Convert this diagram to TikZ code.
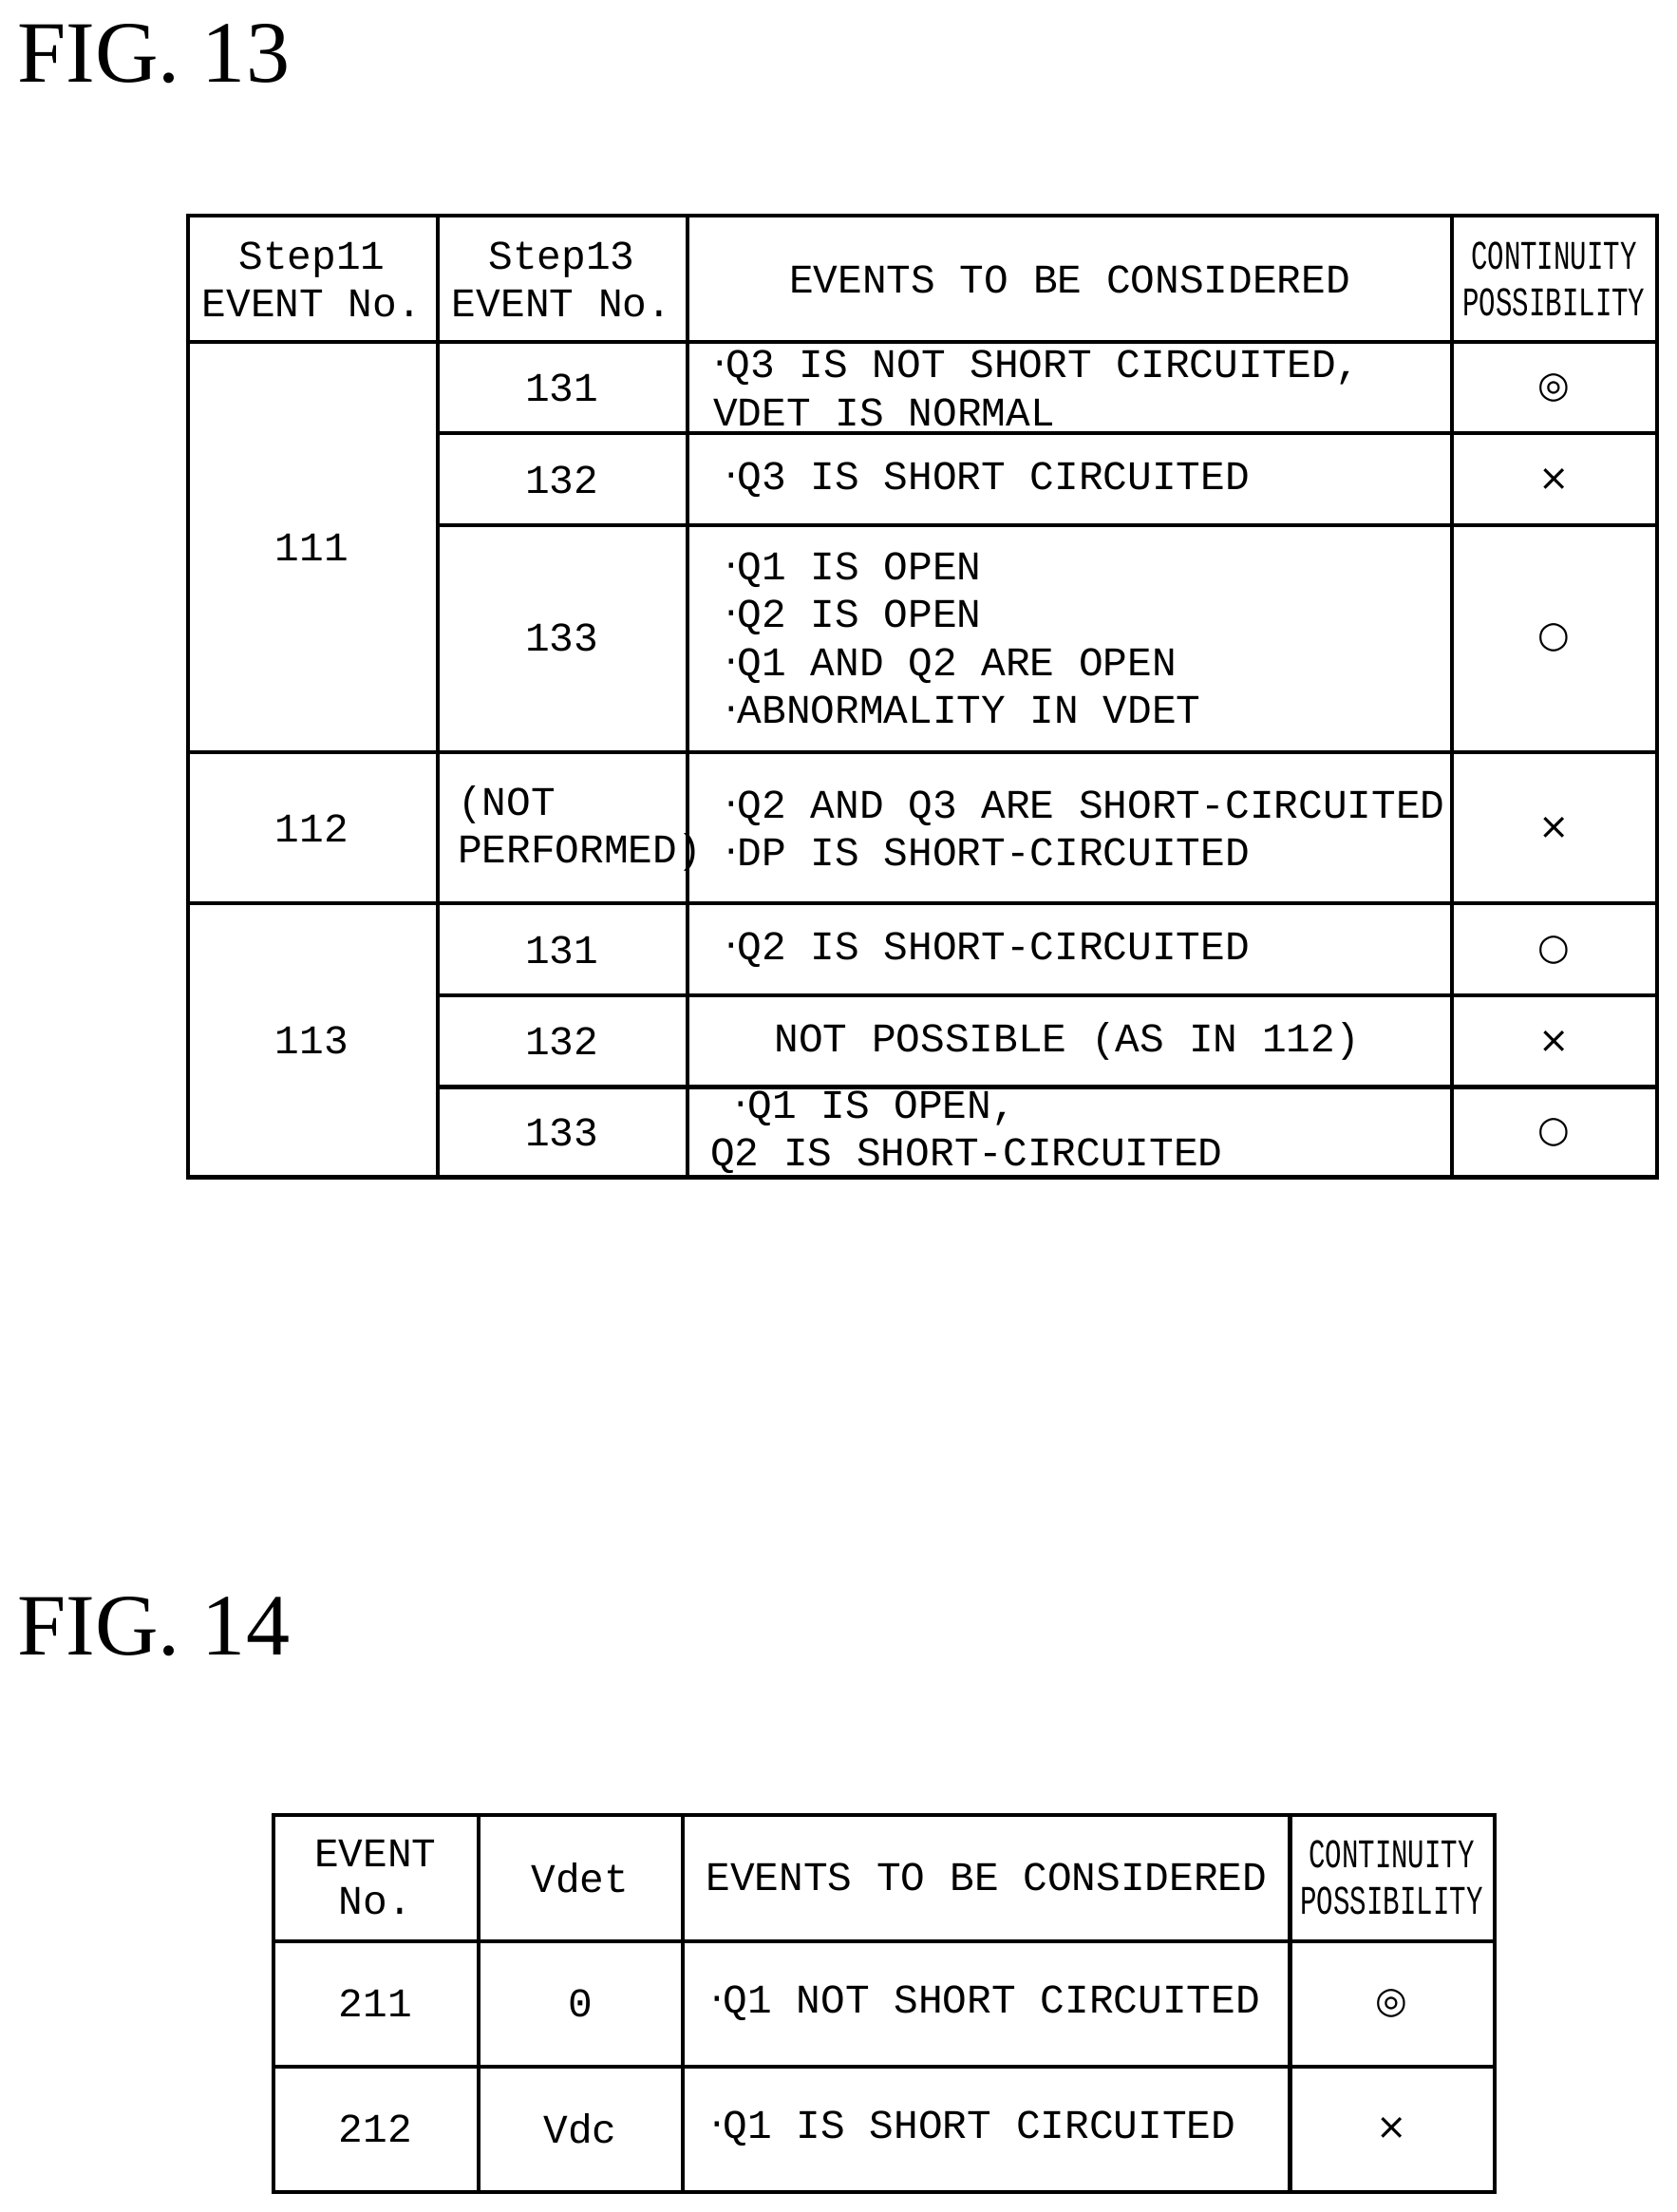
\documentclass[tikz,border=0pt]{standalone}
\usepackage{fontspec}
\setmainfont{Liberation Serif}
\newfontfamily\monofnt{Liberation Mono}
\newfontfamily\symfnt{DejaVu Sans}
\usetikzlibrary{positioning}

\tikzset{
  grid line/.style={line width=1.4pt},
  cell/.style={font=\monofnt\fontsize{14.4}{17}\selectfont, inner sep=0pt},
  evt/.style={cell, anchor=west, align=left},
  cont/.style={cell, align=center, font=\monofnt\fontsize{14.4}{16.5}\selectfont, xscale=0.68},
  symbol/.style={font=\symfnt\fontsize{13}{13}\selectfont, inner sep=0pt},
  figtitle/.style={font=\fontsize{31}{31}\selectfont, anchor=west, inner sep=0pt}
}
\newcommand{\bul}{{\symfnt\textperiodcentered}}

\begin{document}
\begin{tikzpicture}[x=0.5pt,y=-0.5pt]
\useasboundingbox (0,0) rectangle (1188,1567);

% Titles
\node[figtitle] (fig13) at (12,38) {FIG. 13};
\node[figtitle] (fig14) at (12,1152) {FIG. 14};

% Table of FIG. 13
\draw[grid line] (133,153) rectangle (1174,834);
\foreach \x in {310,487,1029} \draw[grid line] (\x,153) -- (\x,834);
\draw[grid line] (133,242) -- (1174,242);
\draw[grid line] (133,533) -- (1174,533);
\draw[grid line] (133,640) -- (1174,640);
\foreach \y in {307,372,705,770} \draw[grid line] (310,\y) -- (1174,\y);

\node[cell, align=center] (h1) at (221,198) {Step11\\EVENT No.};
\node[cell, align=center] (h2) at (398,198) {Step13\\EVENT No.};
\node[cell] (h3) at (758,198) {EVENTS TO BE CONSIDERED};
\node[cont] (h4) at (1101,198) {CONTINUITY\\POSSIBILITY};

\node[cell] (e111) at (221,388) {111};
\node[cell] (e112) at (221,587) {112};
\node[cell] (e113) at (221,737) {113};

\node[cell] (s131a) at (398,275) {131};
\node[cell] (s132a) at (398,340) {132};
\node[cell] (s133a) at (398,452) {133};
\node[cell, align=left, anchor=west] (snp) at (324,587) {(NOT\\PERFORMED)};
\node[cell] (s131b) at (398,673) {131};
\node[cell] (s132b) at (398,738) {132};
\node[cell] (s133b) at (398,802) {133};

\node[evt] (t1) at (505,275) {\bul Q3 IS NOT SHORT CIRCUITED,\\VDET IS NORMAL};
\node[evt] (t2) at (513,340) {\bul Q3 IS SHORT CIRCUITED};
\node[evt] (t3) at (513,452) {\bul Q1 IS OPEN\\\bul Q2 IS OPEN\\\bul Q1 AND Q2 ARE OPEN\\\bul ABNORMALITY IN VDET};
\node[evt] (t4) at (513,587) {\bul Q2 AND Q3 ARE SHORT-CIRCUITED\\\bul DP IS SHORT-CIRCUITED};
\node[evt] (t5) at (513,673) {\bul Q2 IS SHORT-CIRCUITED};
\node[cell] (t6) at (756,738) {NOT POSSIBLE (AS IN 112)};
\node[evt] (t7) at (503,802) {\ \bul Q1 IS OPEN,\\Q2 IS SHORT-CIRCUITED};

\node[symbol] (m1) at (1101,275) {◎};
\node[symbol] (m2) at (1101,340) {×};
\node[symbol] (m3) at (1101,452) {○};
\node[symbol] (m4) at (1101,587) {×};
\node[symbol] (m5) at (1101,673) {○};
\node[symbol] (m6) at (1101,738) {×};
\node[symbol] (m7) at (1101,802) {○};

% Table of FIG. 14
\draw[grid line] (194,1286) rectangle (1059,1553);
\foreach \x in {339,484,914} \draw[grid line] (\x,1286) -- (\x,1553);
\foreach \y in {1375,1464} \draw[grid line] (194,\y) -- (1059,\y);

\node[cell, align=center] (g1) at (266,1330) {EVENT\\No.};
\node[cell] (g2) at (411,1330) {Vdet};
\node[cell] (g3) at (699,1330) {EVENTS TO BE CONSIDERED};
\node[cont] (g4) at (986,1330) {CONTINUITY\\POSSIBILITY};

\node[cell] (v211) at (266,1419) {211};
\node[cell] (v212) at (266,1508) {212};
\node[cell] (d0) at (411,1419) {0};
\node[cell] (dvdc) at (411,1508) {Vdc};
\node[evt] (u1) at (503,1419) {\bul Q1 NOT SHORT CIRCUITED};
\node[evt] (u2) at (503,1508) {\bul Q1 IS SHORT CIRCUITED};
\node[symbol] (n1) at (986,1419) {◎};
\node[symbol] (n2) at (986,1508) {×};

\end{tikzpicture}
\end{document}
